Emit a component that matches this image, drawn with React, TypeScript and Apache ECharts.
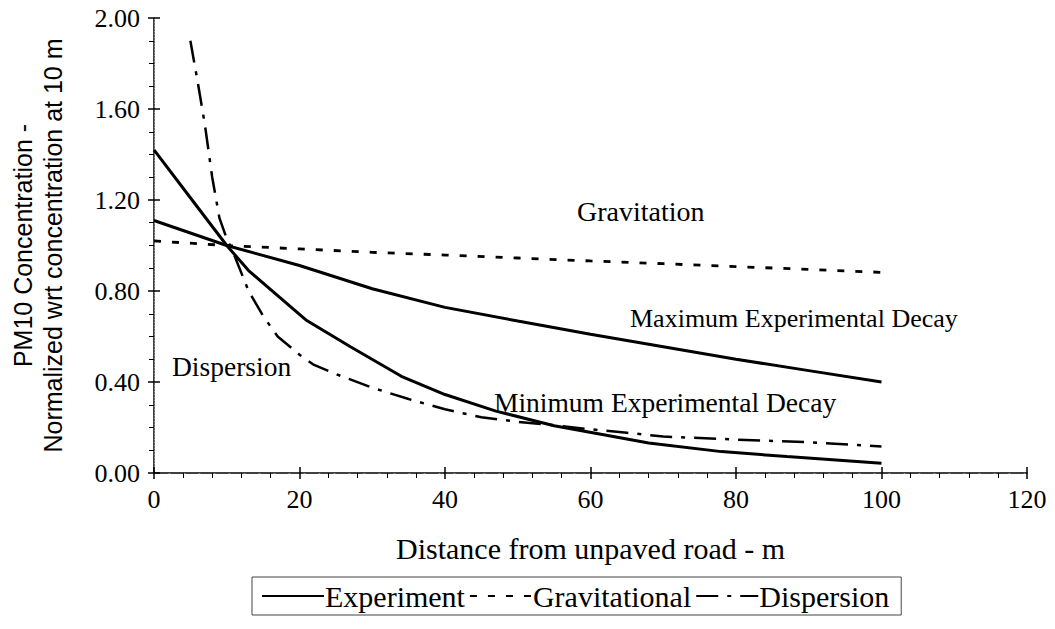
import React, { useEffect, useRef } from "react";
import * as echarts from "echarts";

// Distance from the unpaved road (m) and normalized PM10 concentration (relative to 10 m)
const maxDist = [0, 5, 10, 20, 30, 40, 50, 60, 70, 80, 90, 100];
const maxConc = [1.11, 1.055, 1.0, 0.912, 0.81, 0.728, 0.668, 0.61, 0.555, 0.5, 0.45, 0.4];

const minDist = [0, 5, 10, 13, 17, 21, 27, 34, 40, 47, 55, 62, 68, 78, 87, 100];
const minConc = [1.42, 1.21, 1.0, 0.89, 0.78, 0.67, 0.555, 0.425, 0.345, 0.272, 0.208, 0.167, 0.132, 0.094, 0.072, 0.043];

const gravDist = [0, 10, 20, 30, 40, 50, 60, 70, 80, 90, 100];
const gravConc = [1.02, 1.0, 0.985, 0.97, 0.958, 0.945, 0.932, 0.92, 0.907, 0.895, 0.882];

const dispDist = [5, 6, 7, 8, 9, 10, 11, 13, 15, 17, 20, 22, 25, 30, 35, 40, 45, 50, 55, 60, 65, 70, 80, 90, 100];
const dispConc = [1.9, 1.72, 1.53, 1.3, 1.12, 1.03, 0.96, 0.8, 0.69, 0.6, 0.52, 0.475, 0.435, 0.375, 0.325, 0.28, 0.245, 0.225, 0.21, 0.192, 0.177, 0.16, 0.147, 0.135, 0.117];

const legendNames = ["Experiment", "Gravitational", "Dispersion"];

const xTitle = "Distance from unpaved road - m";
const yTitle = "PM10 Concentration -\nNormalized wrt concentration at 10 m";

const serif = "Liberation Serif";
const sans = "Liberation Sans";

const pairs = (xs: number[], ys: number[]) => xs.map((x, i) => [x, ys[i]]);

export default function App() {
  const ref = useRef<HTMLDivElement>(null);

  useEffect(() => {
    document.body.style.margin = "0";
    const chart = echarts.init(ref.current!, null, { renderer: "svg" });

    const tickStyle = { color: "#000", width: 1.5 };
    const labelStyle = { fontFamily: serif, fontSize: 26, color: "#000" };

    const option: any = {
      animation: false,
      backgroundColor: "#fff",
      grid: { left: 152, right: 28, top: 18, bottom: 156, containLabel: false },
      xAxis: [
        {
          type: "value",
          position: "bottom",
          min: 0,
          max: 120,
          interval: 20,
          axisLine: { show: true, onZero: false, lineStyle: { color: "#000", width: 1.5 } },
          axisTick: { show: true, length: 6, lineStyle: tickStyle },
          minorTick: { show: true, splitNumber: 5, length: 5, lineStyle: { color: "#000", width: 1 } },
          axisLabel: { ...labelStyle, margin: 13 },
          splitLine: { show: false },
          name: xTitle,
          nameLocation: "middle",
          nameGap: 60,
          nameTextStyle: { fontFamily: serif, fontSize: 30, color: "#000" },
        },
        {
          // inner half of the crossing major ticks
          type: "value",
          position: "bottom",
          min: 0,
          max: 120,
          interval: 20,
          axisLine: { show: false },
          axisTick: { show: true, inside: true, length: 6, lineStyle: tickStyle },
          axisLabel: { show: false },
          splitLine: { show: false },
        },
        {
          // dotted top border of the plot area
          type: "value",
          position: "top",
          min: 0,
          max: 120,
          interval: 20,
          axisLine: { show: true, lineStyle: { color: "#888", width: 1, type: [1, 14] } },
          axisTick: { show: false },
          axisLabel: { show: false },
          splitLine: { show: false },
        },
      ],
      yAxis: [
        {
          type: "value",
          position: "left",
          min: 0,
          max: 2,
          interval: 0.4,
          axisLine: { show: true, onZero: false, lineStyle: { color: "#000", width: 1.5 } },
          axisTick: { show: true, length: 6, lineStyle: tickStyle },
          minorTick: { show: true, splitNumber: 4, length: 5, lineStyle: { color: "#000", width: 1 } },
          axisLabel: { ...labelStyle, margin: 14, formatter: (v: number) => v.toFixed(2) },
          splitLine: { show: false },
          name: yTitle,
          nameLocation: "middle",
          nameGap: 86,
          nameTextStyle: { fontFamily: sans, fontSize: 25, color: "#000", lineHeight: 30 },
        },
        {
          type: "value",
          position: "left",
          min: 0,
          max: 2,
          interval: 0.4,
          axisLine: { show: false },
          axisTick: { show: true, inside: true, length: 6, lineStyle: tickStyle },
          axisLabel: { show: false },
          splitLine: { show: false },
        },
        {
          // dotted right border of the plot area
          type: "value",
          position: "right",
          min: 0,
          max: 2,
          interval: 0.4,
          axisLine: { show: true, lineStyle: { color: "#999", width: 1, type: [1, 2] } },
          axisTick: { show: false },
          axisLabel: { show: false },
          splitLine: { show: false },
        },
      ],
      legend: {
        data: legendNames,
        left: 252,
        top: 577,
        orient: "horizontal",
        padding: [4, 12, 4, 9],
        itemWidth: 62,
        itemHeight: 14,
        itemGap: 4,
        borderColor: "#444",
        borderWidth: 1,
        itemStyle: { opacity: 0 },
        textStyle: { fontFamily: serif, fontSize: 30, color: "#000", padding: [0, 0, 0, -4] },
      },
      series: [
        { name: "Experiment", type: "line", data: pairs(maxDist, maxConc), symbol: "none", lineStyle: { color: "#000", width: 3 }, itemStyle: { color: "#000" }, z: 3 },
        { name: "Experiment", type: "line", data: pairs(minDist, minConc), symbol: "none", lineStyle: { color: "#000", width: 3 }, itemStyle: { color: "#000" }, z: 3 },
        { name: "Gravitational", type: "line", data: pairs(gravDist, gravConc), symbol: "none", lineStyle: { color: "#000", width: 2.8, type: [7, 11] }, itemStyle: { color: "#000" }, z: 2 },
        { name: "Dispersion", type: "line", data: pairs(dispDist, dispConc), symbol: "none", lineStyle: { color: "#000", width: 2.5, type: [22, 9, 4, 9] }, itemStyle: { color: "#000" }, z: 2 },
      ],
      graphic: [
        { type: "text", left: 577, top: 197, style: { text: "Gravitation", font: `28px ${serif}`, fill: "#000" }, z: 10 },
        { type: "text", left: 630, top: 305, style: { text: "Maximum Experimental Decay", font: `26px ${serif}`, fill: "#000" }, z: 10 },
        { type: "text", left: 172, top: 352, style: { text: "Dispersion", font: `27.5px ${serif}`, fill: "#000" }, z: 10 },
        { type: "text", left: 494, top: 388, style: { text: "Minimum Experimental Decay", font: `27.5px ${serif}`, fill: "#000" }, z: 10 },
      ],
    };

    chart.setOption(option);
    return () => chart.dispose();
  }, []);

  return <div ref={ref} style={{ width: 1055, height: 629, background: "#fff" }} />;
}
